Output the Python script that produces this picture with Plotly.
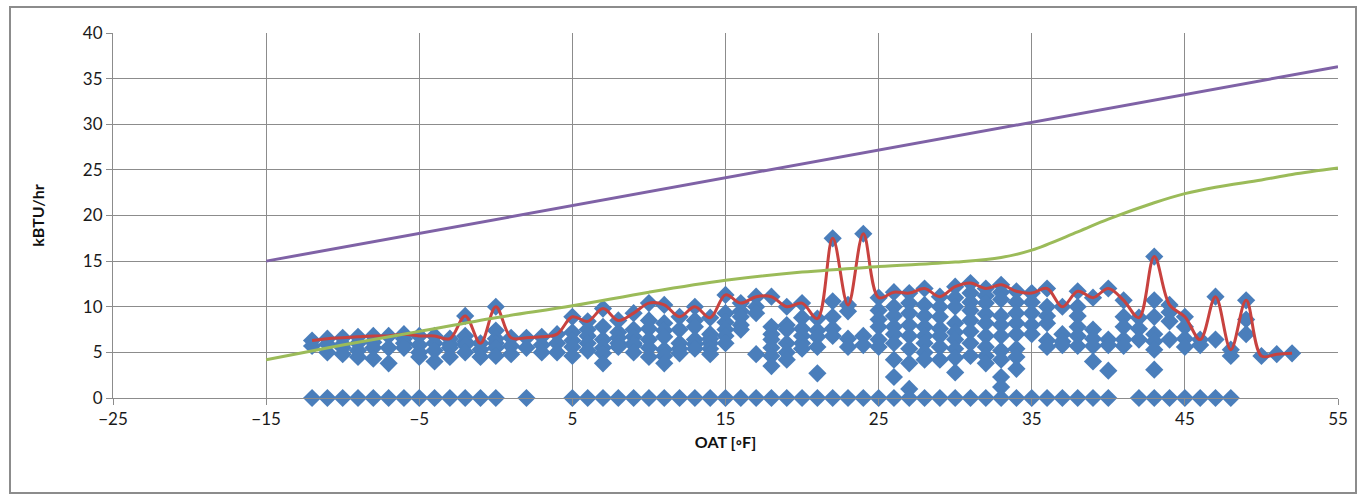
import plotly.graph_objects as go

# Outdoor air temperature bins [°F] with the hourly loads observed in each bin [kBTU/hr]
temps = list(range(-12, 53))
loads_by_temp = [
    [6.3, 5.7],                                    # -12
    [6.5, 5.9, 5.0],                               # -11
    [6.6, 5.9, 5.5, 4.8],                          # -10
    [6.7, 6.0, 5.2, 4.5],                          # -9
    [6.8, 6.1, 5.5, 4.3],                          # -8
    [6.8, 5.5, 3.8],                               # -7
    [7.0, 6.5, 6.0, 5.5],                          # -6
    [6.8, 5.8, 5.0, 4.5],                          # -5
    [6.8, 6.0, 5.2, 4.0],                          # -4
    [6.5, 5.9, 5.5, 4.5],                          # -3
    [9.0, 6.8, 6.2, 5.8, 5.0],                     # -2
    [6.0, 5.3, 4.5],                               # -1
    [10.0, 7.4, 6.5, 6.0, 5.5, 4.6],               # 0
    [6.6, 5.7, 4.8],                               # 1
    [6.6, 5.5],                                    # 2
    [6.7, 5.8, 5.0],                               # 3
    [7.0, 6.0, 5.0],                               # 4
    [8.9, 7.2, 6.3, 5.6, 4.6],                     # 5
    [8.4, 7.5, 6.8, 6.0, 5.2],                     # 6
    [9.8, 7.8, 6.4, 5.5, 4.9, 3.8],                # 7
    [8.5, 7.2, 6.6, 6.0, 5.6],                     # 8
    [9.3, 7.5, 6.7, 6.0, 5.8, 5.0],                # 9
    [10.4, 8.5, 7.6, 6.4, 5.5, 4.5],               # 10
    [10.2, 8.2, 7.4, 6.7, 5.3, 4.6, 3.8],          # 11
    [8.9, 7.5, 6.0, 5.4, 4.9],                     # 12
    [10.0, 8.5, 7.8, 6.4, 5.9, 5.4],               # 13
    [8.8, 7.0, 6.5, 6.0, 5.4, 4.8],                # 14
    [11.3, 9.3, 8.3, 7.5, 6.8, 6.0],               # 15
    [10.4, 9.5, 8.9, 8.0, 7.5],                    # 16
    [11.1, 10.0, 9.3, 4.8],                        # 17
    [11.1, 7.8, 7.0, 6.4, 5.5, 4.6, 3.5],          # 18
    [10.0, 8.0, 7.5, 6.0, 5.0, 4.2],               # 19
    [10.4, 8.8, 7.6, 6.8, 6.0, 5.4],               # 20
    [8.7, 7.4, 6.7, 5.6, 2.7],                     # 21
    [17.5, 10.6, 8.9, 7.6, 6.8],                   # 22
    [10.2, 9.5, 6.5, 5.6],                         # 23
    [18.0, 6.8, 5.8],                              # 24
    [11.0, 9.6, 8.6, 7.8, 6.4, 5.6],               # 25
    [11.6, 10.0, 9.0, 7.8, 7.0, 6.0, 4.2, 2.3],    # 26
    [11.5, 10.4, 9.3, 8.0, 6.8, 5.4, 3.8, 1.0],    # 27
    [12.0, 10.2, 9.0, 7.8, 6.8, 6.0, 5.0, 4.2],    # 28
    [11.1, 10.0, 8.9, 7.6, 6.8, 5.6, 4.2],         # 29
    [12.2, 11.0, 10.0, 8.2, 7.2, 6.4, 5.4, 4.4, 2.8],  # 30
    [12.6, 11.5, 10.5, 9.6, 8.5, 7.3, 6.0, 4.6],   # 31
    [12.0, 11.2, 10.4, 9.2, 8.2, 6.8, 5.6, 4.6, 3.8],  # 32
    [12.4, 11.6, 10.8, 9.0, 8.0, 6.8, 5.2, 4.2, 2.3, 1.2],  # 33
    [11.7, 10.5, 9.3, 8.2, 7.0, 5.4, 4.5, 3.2],    # 34
    [11.5, 10.5, 9.3, 8.0, 7.0],                   # 35
    [12.0, 10.0, 9.0, 8.2, 6.3, 5.6],              # 36
    [10.0, 7.0, 6.2, 5.8],                         # 37
    [11.7, 10.0, 9.0, 7.8, 6.8, 5.7],              # 38
    [11.0, 7.5, 6.5, 5.7, 4.0],                    # 39
    [12.0, 6.4, 5.8, 3.0],                         # 40
    [10.7, 8.9, 7.8, 6.4, 5.7],                    # 41
    [8.8, 7.6, 6.4],                               # 42
    [15.5, 10.7, 8.9, 7.0, 6.2, 5.3, 3.1],         # 43
    [10.2, 9.4, 8.4, 6.4],                         # 44
    [8.9, 7.8, 6.5, 5.6],                          # 45
    [6.4, 5.8],                                    # 46
    [11.1, 6.4],                                   # 47
    [5.3, 4.6],                                    # 48
    [10.7, 8.6, 7.0],                              # 49
    [4.6],                                         # 50
    [4.8],                                         # 51
    [4.9],                                         # 52
]
# Hours with no load recorded in a bin
zero_load_temps = list(range(-12, 1)) + [2] + list(range(5, 41)) + list(range(42, 49))

# Design load curve
design_temps = [-15, -10, -5, 0, 5, 10, 15, 20, 25, 30, 33, 35, 38, 40, 43, 45, 47, 50, 52, 55]
design_loads = [4.2, 5.8, 7.3, 8.8, 10.1, 11.6, 12.9, 13.8, 14.4, 14.9, 15.4, 16.2,
                18.2, 19.6, 21.4, 22.4, 23.1, 23.9, 24.5, 25.2]

# Equipment capacity line
capacity_temps = [-15, 55]
capacity_loads = [15.0, 36.3]

scatter_x, scatter_y = [], []
for t, loads in zip(temps, loads_by_temp):
    scatter_x += [t] * len(loads)
    scatter_y += loads
scatter_x += zero_load_temps
scatter_y += [0.0] * len(zero_load_temps)

peak_loads = [max(loads) for loads in loads_by_temp]

fig = go.Figure()
fig.add_trace(go.Scatter(
    x=scatter_x, y=scatter_y, mode="markers", cliponaxis=False,
    marker=dict(symbol="diamond", size=14, color="#4a7ebb",
                line=dict(width=0)),
    name="Hourly load"))
fig.add_trace(go.Scatter(
    x=temps, y=peak_loads, mode="lines", cliponaxis=False,
    line=dict(color="#c8423f", width=3, shape="spline", smoothing=1.0),
    name="Peak load"))
fig.add_trace(go.Scatter(
    x=design_temps, y=design_loads, mode="lines",
    line=dict(color="#9bbb59", width=3, shape="spline", smoothing=1.0),
    name="Design load"))
fig.add_trace(go.Scatter(
    x=capacity_temps, y=capacity_loads, mode="lines",
    line=dict(color="#7f62a6", width=3),
    name="Capacity"))

axis_font = dict(family="Lato, Open Sans, sans-serif", size=17, color="#1a1a1a")
title_font = dict(family="Lato, Open Sans, sans-serif", size=16, color="#111111")

fig.update_layout(
    width=1363, height=494,
    margin=dict(l=113, r=25, t=33, b=96),
    paper_bgcolor="white", plot_bgcolor="white",
    showlegend=False,
    xaxis=dict(
        range=[-25, 55], tick0=-25, dtick=10,
        showgrid=True, gridcolor="#8c8c8c", gridwidth=1,
        showline=True, linecolor="#8c8c8c", linewidth=1,
        ticks="outside", ticklen=6, tickcolor="#8c8c8c",
        zeroline=False, tickfont=axis_font,
        title=dict(text="<b>OAT [◦F]</b>", font=title_font, standoff=8),
    ),
    yaxis=dict(
        range=[0, 40], dtick=5,
        showgrid=True, gridcolor="#8c8c8c", gridwidth=1,
        showline=True, linecolor="#8c8c8c", linewidth=1,
        ticks="outside", ticklen=6, tickcolor="#8c8c8c",
        zeroline=False, tickfont=axis_font,
        title=dict(text="<b>kBTU/hr</b>", font=title_font, standoff=34),
    ),
    shapes=[dict(
        type="rect", xref="paper", yref="paper",
        x0=(10 - 113) / 1225, x1=(1356 - 113) / 1225,
        y0=(398 - 493) / 365, y1=(398 - 7) / 365,
        line=dict(color="#8c8c8c", width=2), fillcolor="rgba(0,0,0,0)",
        layer="below")],
)

fig.write_html("out.html")
